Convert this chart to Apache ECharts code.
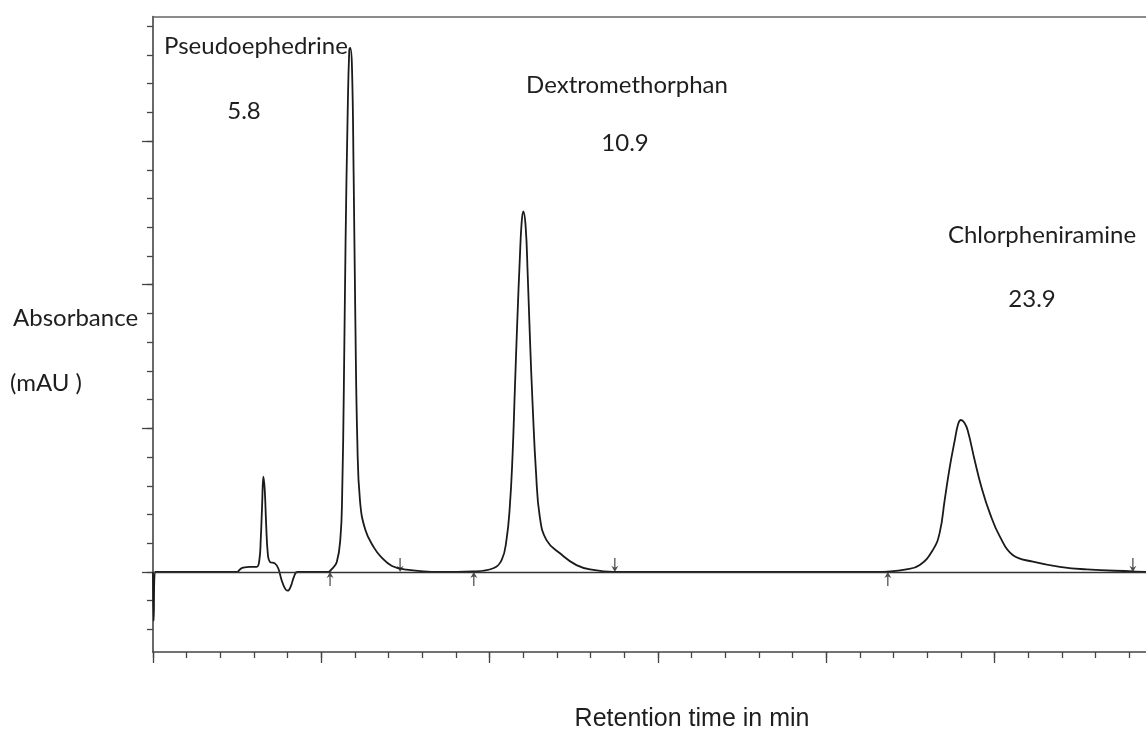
<!DOCTYPE html>
<html>
<head>
<meta charset="utf-8">
<script src="https://cdn.jsdelivr.net/npm/echarts@6/dist/echarts.min.js"></script>
<style>
html,body{margin:0;padding:0;background:#fff;}
#chart{width:1146px;height:729px;}
</style>
</head>
<body>
<div id="chart"></div>
<script>
// Retention time (min) of traced chromatogram points
const traceTimes = [
  0, 0.02, 0.06, 2.5, 2.58, 2.68, 2.88, 3.08, 3.16, 3.20, 3.24, 3.28, 3.32, 3.36, 3.41, 3.47, 3.62, 3.72,
  3.82, 3.92, 4.0, 4.09, 4.19, 4.29, 5.2,
  5.30, 5.46, 5.57, 5.62, 5.67, 5.72, 5.78, 5.83, 5.86, 5.91, 5.96, 6.01, 6.07, 6.15, 6.31, 6.57, 6.78, 7.10, 7.53, 8.5,
  9.51, 10.11, 10.36, 10.50, 10.60, 10.68, 10.75, 10.82, 10.90, 10.95, 11.0, 11.07, 11.13, 11.20, 11.28, 11.38, 11.49,
  11.69, 12.09, 12.58, 13.08, 13.67, 21.5,
  22.38, 22.78, 23.17, 23.37, 23.52, 23.67, 23.82, 23.92, 24.0, 24.1, 24.2, 24.41, 24.61, 24.86, 25.16, 25.54, 26.14,
  26.94, 27.74, 29.11, 29.5
];
// Absorbance (mAU) at each traced point
const traceAbsorbance = [
  0, -17, 0, 0, 0.9, 1.5, 1.8, 1.8, 4.2, 11.1, 22.7, 33.2, 28.5, 17, 6.5, 3.6, 3.0, 1.3,
  -2.8, -5.7, -6.5, -5.1, -1.6, 0, 0,
  0.9, 3.5, 12.2, 27.1, 64.4, 114.2, 157.7, 181.4, 182.4, 176.2, 138.9, 89.1, 45.6, 24.7, 14.6, 8.4, 5.2, 2.1, 0.8, 0,
  0.2, 1.3, 4.2, 11.1, 22.7, 40.1, 63.4, 86.6, 109.8, 121.4, 125.5, 120.3, 104.1, 80.8, 57.6, 34.4, 19.3,
  11.1, 6.5, 2.4, 0.7, 0, 0,
  0.9, 2.4, 7.7, 13.6, 25.1, 36.5, 45.9, 51.5, 52.9, 52.0, 49.4, 38.9, 29.6, 20.5, 12.3, 5.9, 3.6,
  1.8, 0.9, 0.2, 0
];
// Integration markers (min)
const peakStartMarks = [5.26, 9.53, 21.83];
const peakEndMarks = [7.34, 13.72, 29.11];
// Peak annotations
const peakNames = ['Pseudoephedrine', 'Dextromethorphan', 'Chlorpheniramine'];
const peakTimeLabels = ['5.8', '10.9', '23.9'];
// Axis ticks
const xMinorTicks = [0,1,2,3,4,5,6,7,8,9,10,11,12,13,14,15,16,17,18,19,20,21,22,23,24,25,26,27,28,29];
const xMajorTicks = [0, 5, 10, 15, 20, 25];
const yMinorTicks = [-20,-10,0,10,20,30,40,50,60,70,80,90,100,110,120,130,140,150,160,170,180,190];
const yMajorTicks = [0, 50, 100, 150];
const yAxisTitle = ['Absorbance', '(mAU )'];
const xAxisTitle = 'Retention time in min';

const X_MIN = 0, X_MAX = 29.5, Y_MIN = -27.85, Y_MAX = 193.35;
const axisColor = '#444';
const calibriLike = 'Lato, "Open Sans", sans-serif';
const textColor = '#1e1e1e';

const chart = echarts.init(document.getElementById('chart'), null, {renderer: 'canvas'});

const traceData = traceTimes.map((t, i) => [t, traceAbsorbance[i]]);
const upArrow = 'path://M5 0 L10 7 L5.9 5.2 L5.9 16 L4.1 16 L4.1 5.2 L0 7 Z';
const downArrow = 'path://M5 16 L10 9 L5.9 10.8 L5.9 0 L4.1 0 L4.1 10.8 L0 9 Z';

function xAxisBase(extra) {
  return Object.assign({
    type: 'value', min: X_MIN, max: X_MAX, gridIndex: 0,
    splitLine: {show: false}, axisLabel: {show: false},
    axisLine: {show: false, onZero: false}, axisTick: {show: false}
  }, extra);
}
function yAxisBase(extra) {
  return Object.assign({
    type: 'value', min: Y_MIN, max: Y_MAX, gridIndex: 0,
    splitLine: {show: false}, axisLabel: {show: false},
    axisLine: {show: false, onZero: false}, axisTick: {show: false}
  }, extra);
}

const graphics = [];
const labelPos = [
  {nx: 256, ny: 46, tx: 244, ty: 111},
  {nx: 627, ny: 85, tx: 625, ty: 143},
  {nx: 1042, ny: 235, tx: 1032, ty: 299}
];
function txt(x, y, s, font, align) {
  return {type: 'text', x: x, y: y,
    style: {text: s, font: font, fill: textColor, align: align, verticalAlign: 'middle', textAlign: align, textVerticalAlign: 'middle'}};
}
peakNames.forEach((name, i) => {
  graphics.push(txt(labelPos[i].nx, labelPos[i].ny, name, '24px ' + calibriLike, 'center'));
  graphics.push(txt(labelPos[i].tx, labelPos[i].ty, peakTimeLabels[i], '24px ' + calibriLike, 'center'));
});
graphics.push(txt(13, 318, yAxisTitle[0], '24px ' + calibriLike, 'left'));
graphics.push(txt(10, 383, yAxisTitle[1], '24px ' + calibriLike, 'left'));
graphics.push(txt(692, 719, xAxisTitle, '25px "Liberation Sans", Arial, sans-serif', 'center'));

const option = {
  backgroundColor: '#fff',
  animation: false,
  grid: {left: 153, top: 16.5, right: 0, bottom: 77, containLabel: false},
  xAxis: [
    xAxisBase({position: 'bottom', axisLine: {show: true, onZero: false, lineStyle: {color: axisColor, width: 1.6}},
      axisTick: {show: true, inside: false, length: 6, customValues: xMinorTicks, lineStyle: {color: axisColor, width: 1.3}}}),
    xAxisBase({position: 'bottom', axisTick: {show: true, inside: false, length: 11, customValues: xMajorTicks, lineStyle: {color: axisColor, width: 1.3}}}),
    xAxisBase({position: 'top', axisLine: {show: true, onZero: false, lineStyle: {color: '#666', width: 1.6}}})
  ],
  yAxis: [
    yAxisBase({position: 'left', axisLine: {show: true, onZero: false, lineStyle: {color: axisColor, width: 1.6}},
      axisTick: {show: true, inside: false, length: 6, customValues: yMinorTicks, lineStyle: {color: axisColor, width: 1.3}}}),
    yAxisBase({position: 'left', axisTick: {show: true, inside: false, length: 11, customValues: yMajorTicks, lineStyle: {color: axisColor, width: 1.3}}})
  ],
  series: [
    {
      type: 'line', xAxisIndex: 0, yAxisIndex: 0,
      data: traceData, showSymbol: false, symbol: 'none',
      smooth: 0.45,
      lineStyle: {color: '#1a1a1a', width: 1.8},
      markLine: {
        silent: true, symbol: ['none', 'none'], label: {show: false},
        lineStyle: {color: '#333', width: 1.3, type: 'solid'},
        data: [{yAxis: 0}]
      },
      z: 3
    },
    {
      type: 'scatter', xAxisIndex: 0, yAxisIndex: 0,
      data: peakStartMarks.map(t => [t, 0]),
      symbol: upArrow, symbolSize: [7, 14], symbolOffset: [0, 7],
      itemStyle: {color: '#222'}, silent: true, z: 4
    },
    {
      type: 'scatter', xAxisIndex: 0, yAxisIndex: 0,
      data: peakEndMarks.map(t => [t, 0]),
      symbol: downArrow, symbolSize: [7, 14], symbolOffset: [0, -7],
      itemStyle: {color: '#222'}, silent: true, z: 4
    }
  ],
  graphic: graphics
};
chart.setOption(option);
</script>
</body>
</html>
